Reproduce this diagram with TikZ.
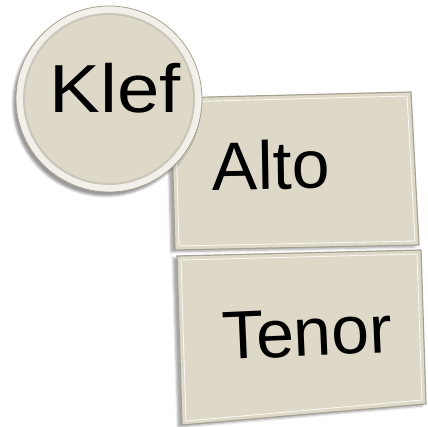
\documentclass[tikz,border=0pt]{standalone}
\usepackage{fontspec}
\setmainfont{Liberation Sans}
\usetikzlibrary{shadows.blur}

\definecolor{clefbeige}{RGB}{221,216,199}
\definecolor{clefedge}{RGB}{166,163,148}
\definecolor{clefring}{RGB}{242,240,232}

\begin{document}
\begin{tikzpicture}[
  x=1pt, y=-1pt,
  panel/.style={fill=clefbeige, draw=clefedge, line width=1.2pt,
                blur shadow={shadow xshift=-4pt, shadow yshift=-2pt, shadow opacity=35}},
  gloss/.style={draw=white, line width=0.9pt, opacity=0.8},
  lbl/.style={font=\fontsize{68}{70}\selectfont, text=black, inner sep=0pt},
  disc/.style={circle, minimum size=186pt, fill=clefring, draw=clefedge, line width=0.8pt,
               blur shadow={shadow xshift=-3pt, shadow yshift=-4pt, shadow opacity=40}},
  core/.style={circle, minimum size=170pt, fill=clefbeige, draw=clefbeige!80!gray, line width=2pt}
]
  \useasboundingbox (0,0) rectangle (428,427);

  % the two stacked panels
  \filldraw[panel] (171,98) -- (411,92) -- (419,245) -- (175,250) -- cycle;
  \draw[gloss] (175,102) -- (407,96) -- (415,241) -- (179,246) -- cycle;
  \filldraw[panel] (177,256) -- (421,250) -- (426,404) -- (182,425) -- cycle;
  \draw[gloss] (181,260) -- (417,254) -- (422,400) -- (186,421) -- cycle;

  \node[lbl, rotate=1]   (alto)  at (271,165) {Alto};
  \node[lbl, rotate=2.5] (tenor) at (307,333) {Tenor};

  % the round badge
  \node[disc] (ring) at (109,99) {};
  \node[core] (disk) at (ring.center) {};
  \node[lbl, xscale=1.12] (klef) at (115,88) {Klef};
\end{tikzpicture}
\end{document}
